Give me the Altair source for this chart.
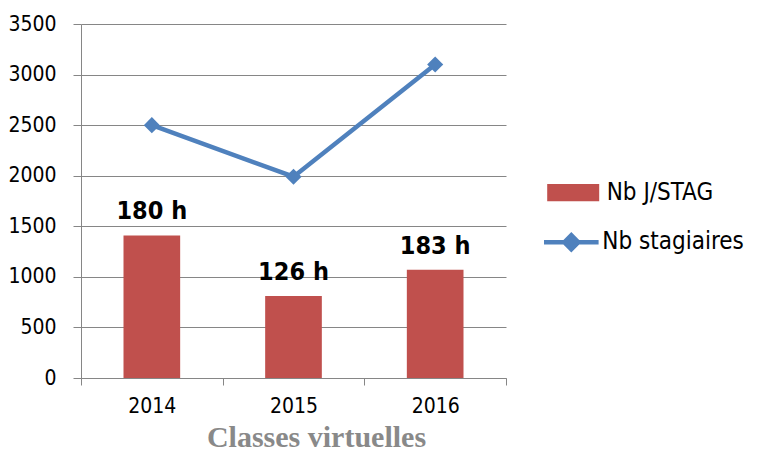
import altair as alt
import pandas as pd

years = ["2014", "2015", "2016"]
nb_jstag = [1410, 810, 1070]
nb_stagiaires = [2500, 1990, 3100]
hour_labels = ["180 h", "126 h", "183 h"]
y_ticks = [0, 500, 1000, 1500, 2000, 2500, 3000, 3500]
bar_series = "Nb J/STAG"
line_series = "Nb stagiaires"

df = pd.DataFrame({
    "year": years,
    "jstag": nb_jstag,
    "stag": nb_stagiaires,
    "label": hour_labels,
    "s_bar": [bar_series] * len(years),
    "s_line": [line_series] * len(years),
})

NARROW = "DejaVu Sans Condensed, Roboto Condensed, Liberation Sans Narrow, Roboto"
GRID = "#868686"
RED = "#C0504D"
BLUE = "#4F81BD"

x = alt.X(
    "year:N",
    title="Classes virtuelles",
    scale=alt.Scale(paddingInner=0, paddingOuter=0),
    axis=alt.Axis(
        labelAngle=0, tickBand="extent", grid=False,
        domainColor=GRID, tickColor=GRID, tickSize=7,
        labelFont=NARROW, labelFontSize=21, labelColor="black", labelPadding=10,
        titleFont="Liberation Serif", titleFontSize=30, titleFontWeight="bold",
        titleColor="#898989", titleX=235, titleY=68, titleAlign="center",
        titleBaseline="alphabetic",
    ),
)

y_scale = alt.Scale(domain=[0, 3500])
y_axis = alt.Axis(
    values=y_ticks, format="d", title=None, grid=True, gridColor=GRID, gridWidth=1,
    domainColor=GRID, tickColor=GRID, tickSize=8,
    labelFont=NARROW, labelFontSize=21, labelColor="black", labelPadding=17,
)

bars = alt.Chart(df).mark_bar(width=alt.RelativeBandSize(0.4)).encode(
    x=x,
    y=alt.Y("jstag:Q", scale=y_scale, axis=y_axis),
    fill=alt.Fill("s_bar:N", scale=alt.Scale(range=[RED]), legend=alt.Legend(
        title=None, orient="none", legendX=474.7, legendY=151.2,
        symbolType="M-1.5,-0.5H1.5V0.5H-1.5Z", symbolSize=1202, symbolStrokeWidth=0,
        symbolOpacity=1,
        labelFont=NARROW, labelFontSize=24, labelColor="black", labelOffset=16,
        padding=0, labelLimit=300,
    )),
)

labels = alt.Chart(df).mark_text(
    font=NARROW, fontSize=25, fontWeight="bold", baseline="alphabetic", dy=-16, color="black"
).encode(x=x, y=alt.Y("jstag:Q", scale=y_scale, axis=y_axis), text="label:N")

line = alt.Chart(df).mark_line(strokeWidth=4.5).encode(
    x=x,
    y=alt.Y("stag:Q", scale=y_scale, axis=y_axis),
    stroke=alt.Stroke("s_line:N", scale=alt.Scale(range=[BLUE]), legend=alt.Legend(
        title=None, orient="none", legendX=478.3, legendY=206.3,
        symbolType="M-3.9,0H-1M-1,0L0,-1L1,0L0,1ZM1,0H3.9", symbolSize=196,
        symbolStrokeWidth=4.5, symbolFillColor=BLUE, symbolOpacity=1,
        labelFont=NARROW, labelFontSize=24, labelColor="black", labelOffset=19,
        padding=0, labelLimit=300,
    )),
)

points = alt.Chart(df).mark_point(shape="diamond", filled=True, size=260, color=BLUE, opacity=1).encode(
    x=x, y=alt.Y("stag:Q", scale=y_scale, axis=y_axis)
)

chart = alt.layer(bars, line, points, labels).properties(
    width=425, height=354,
    autosize=alt.AutoSizeParams(type="none"),
    padding={"left": 73, "top": 16, "right": 247, "bottom": 75},
    background="white",
).configure_view(stroke=None)

chart.save("out.html", embed_options={"renderer": "svg", "actions": False})
